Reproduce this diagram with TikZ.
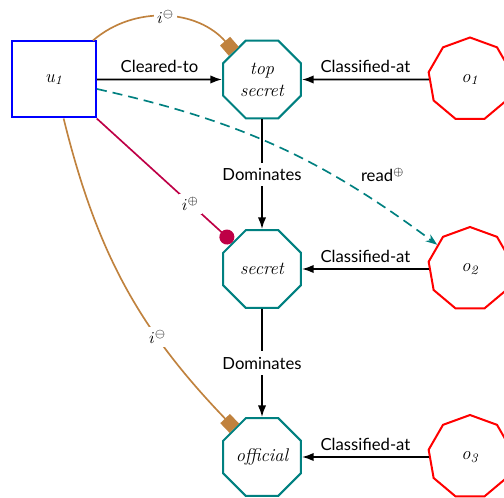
\documentclass[tikz,border=0pt]{standalone}
\usepackage{fontspec}
\setsansfont{Lato}
\usetikzlibrary{shapes.geometric,arrows.meta}
\definecolor{inhbrown}{RGB}{192,130,62}
\definecolor{inhred}{RGB}{190,0,70}
\definecolor{lvlteal}{RGB}{0,128,128}
\newcommand{\nodefont}{\fontsize{11}{13.2}\selectfont\itshape}
\tikzset{
  user/.style={rectangle, draw=blue, line width=1.2pt, minimum width=50.4pt,
    minimum height=45.6pt, inner sep=0pt, font=\nodefont},
  level/.style={regular polygon, regular polygon sides=8, draw=lvlteal,
    line width=1.2pt, minimum size=50.6pt, inner sep=0pt, font=\nodefont,
    align=center},
  object/.style={regular polygon, regular polygon sides=9, draw=red,
    line width=1.2pt, minimum size=50.4pt, inner sep=0pt, font=\nodefont},
  rel/.style={draw=black, line width=1pt, -{Latex[length=7pt,width=5pt]}},
  lab/.style={font=\sffamily},
  onlab/.style={font=\sffamily, fill=white},
  mlab/.style={fill=white, inner sep=2pt},
  negint/.style={draw=inhbrown, line width=1pt, -{Square[length=8pt,width=8pt]}},
  posint/.style={draw=inhred, line width=1pt, -{Circle[length=9pt]}},
  readedge/.style={draw=lvlteal, line width=1pt, dash pattern=on 6pt off 3.6pt,
    -{Stealth[length=7pt,width=5pt]}},
}
\begin{document}
\begin{tikzpicture}[x=0.6pt,y=0.6pt]
\useasboundingbox (0,0) rectangle (504,497);
\clip (0,0) rectangle (504,497);

% subject, security levels and objects
\node[user]   (u1) at (54,417.5) {u\textsubscript{1}};
\node[level]  (ts) at (262,417.5) {top\\secret};
\node[level]  (sc) at (262,228) {secret};
\node[level]  (of) at (262,40) {official};
\node[object] (o1) at (470,417.5) {o\textsubscript{1}};
\node[object] (o2) at (470,228) {o\textsubscript{2}};
\node[object] (o3) at (470,40) {o\textsubscript{3}};

% clearance, classification and dominance
\draw[rel] (u1) -- node[above,lab] {Cleared-to} (ts);
\draw[rel] (o1) -- node[above,lab] {Classified-at} (ts);
\draw[rel] (o2) -- node[above,lab] {Classified-at} (sc);
\draw[rel] (o3) -- node[above,lab] {Classified-at} (of);
\draw[rel] (ts) -- node[onlab] {Dominates} (sc);
\draw[rel] (sc) -- node[onlab] {Dominates} (of);

% interactions
\draw[negint] (u1) to[bend left=45] node[mlab] {$i^{\ominus}$} (ts);
\draw[posint] (u1) -- node[mlab,pos=0.69] {$i^{\oplus}$} (sc);
\draw[negint] (u1) to[bend right=15] node[mlab,pos=0.68] {$i^{\ominus}$} (of);

% derived read permission
\draw[readedge] (u1) to[bend left=12] node[lab,pos=0.75,above right] {read$^{\oplus}$} (o2);
\end{tikzpicture}
\end{document}
